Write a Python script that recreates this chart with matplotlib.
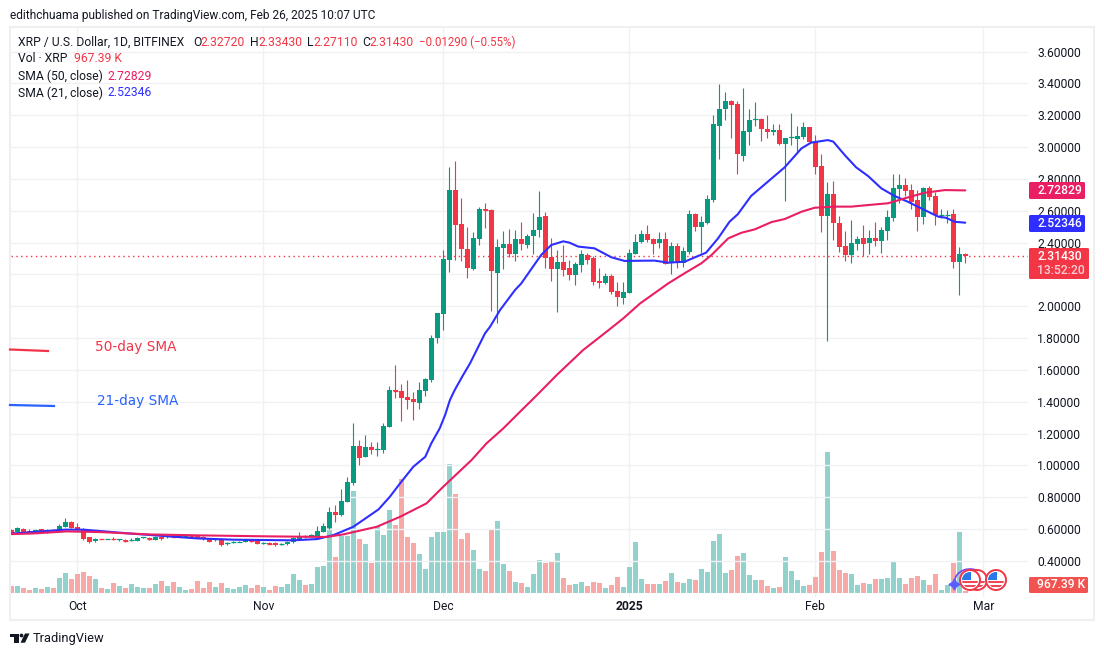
import numpy as np
import matplotlib
matplotlib.use("Agg")
import matplotlib.pyplot as plt
from matplotlib.patches import Rectangle, Circle, Polygon, Arc, FancyBboxPatch

# daily bars, 2024-09-20 to 2025-02-26
opens = [.592, .584, .603, .590, .590, .599, .584, .597, .588, .613,
         .647, .613, .603, .548, .523, .539, .538, .540, .532, .534,
         .530, .528, .546, .546, .534, .553, .551, .555, .551, .555,
         .557, .555, .553, .542, .532, .534, .505, .517, .519, .517,
         .536, .528, .512, .513, .513, .505, .504, .517, .540, .559,
         .555, .557, .584, .607, .707, .687, .772, .890, 1.122, 1.053,
         1.116, 1.099, 1.097, 1.241, 1.476, 1.467, 1.430, 1.417, 1.392, 1.467,
         1.537, 1.800, 1.954, 2.293, 2.731, 2.517, 2.360, 2.234, 2.423, 2.611,
         2.605, 2.209, 2.366, 2.391, 2.329, 2.423, 2.385, 2.442, 2.479, 2.567,
         2.310, 2.234, 2.278, 2.241, 2.197, 2.260, 2.322, 2.303, 2.159, 2.147,
         2.191, 2.096, 2.052, 2.084, 2.329, 2.404, 2.454, 2.423, 2.398, 2.423,
         2.272, 2.378, 2.272, 2.341, 2.579, 2.498, 2.523, 2.667, 3.132, 3.239,
         3.289, 3.270, 2.944, 3.095, 3.170, 3.176, 3.113, 3.095, 3.107, 3.019,
         3.057, 3.050, 3.063, 3.126, 3.032, 2.881, 2.567, 2.705, 2.523, 2.378,
         2.322, 2.391, 2.428, 2.397, 2.428, 2.410, 2.473, 2.554, 2.737, 2.762,
         2.730, 2.667, 2.561, 2.743, 2.692, 2.573, 2.573, 2.579, 2.278, 2.327]
highs = [.601, .613, .607, .601, .594, .603, .603, .603, .634, .672,
         .653, .641, .609, .553, .544, .541, .541, .548, .540, .540,
         .542, .548, .550, .548, .559, .559, .561, .561, .562, .561,
         .562, .565, .557, .546, .542, .542, .521, .523, .528, .538,
         .538, .532, .520, .519, .517, .512, .523, .551, .584, .563,
         .567, .620, .639, .741, .749, .852, .927, 1.266, 1.160, 1.191,
         1.147, 1.147, 1.266, 1.499, 1.631, 1.511, 1.537, 1.461, 1.524, 1.549,
         1.819, 1.958, 2.354, 2.875, 2.913, 2.680, 2.498, 2.467, 2.624, 2.649,
         2.611, 2.423, 2.473, 2.486, 2.479, 2.530, 2.455, 2.586, 2.724, 2.592,
         2.429, 2.354, 2.385, 2.291, 2.278, 2.354, 2.335, 2.316, 2.241, 2.209,
         2.203, 2.153, 2.153, 2.360, 2.454, 2.479, 2.511, 2.429, 2.467, 2.467,
         2.404, 2.397, 2.372, 2.605, 2.586, 2.567, 2.699, 3.201, 3.396, 3.346,
         3.296, 3.289, 3.371, 3.239, 3.283, 3.182, 3.201, 3.145, 3.145, 3.057,
         3.214, 3.132, 3.157, 3.126, 3.076, 2.956, 2.780, 2.787, 2.567, 2.473,
         2.542, 2.441, 2.510, 2.479, 2.529, 2.498, 2.605, 2.831, 2.831, 2.806,
         2.768, 2.730, 2.749, 2.755, 2.717, 2.611, 2.605, 2.611, 2.372, 2.334]
lows = [.572, .580, .576, .574, .582, .578, .578, .582, .584, .613,
        .609, .588, .534, .515, .521, .536, .536, .532, .528, .521,
        .528, .526, .544, .534, .532, .534, .544, .549, .549, .551,
        .551, .550, .534, .517, .528, .492, .500, .515, .517, .517,
        .521, .507, .505, .506, .496, .499, .500, .513, .538, .546,
        .550, .553, .580, .600, .645, .682, .768, .877, 1.003, 1.053,
        1.072, 1.059, 1.078, 1.241, 1.426, 1.279, 1.354, 1.285, 1.354, 1.436,
        1.524, 1.769, 1.853, 2.216, 2.291, 2.285, 2.178, 2.228, 2.385, 2.492,
        1.971, 1.895, 2.234, 2.310, 2.285, 2.354, 2.366, 2.329, 2.435, 2.241,
        2.159, 1.964, 2.191, 2.165, 2.134, 2.216, 2.266, 2.134, 2.115, 2.140,
        2.077, 2.002, 2.015, 2.084, 2.329, 2.398, 2.404, 2.329, 2.366, 2.266,
        2.203, 2.240, 2.246, 2.328, 2.473, 2.334, 2.517, 2.655, 2.925, 3.170,
        3.057, 2.831, 2.912, 3.013, 3.132, 3.038, 3.057, 3.076, 3.013, 2.661,
        3.013, 2.969, 3.050, 3.032, 2.831, 2.466, 1.782, 2.416, 2.341, 2.284,
        2.272, 2.353, 2.316, 2.328, 2.378, 2.334, 2.416, 2.536, 2.648, 2.692,
        2.611, 2.473, 2.517, 2.667, 2.510, 2.554, 2.523, 2.240, 2.071, 2.271]
closes = [.582, .605, .584, .582, .594, .584, .597, .592, .622, .647,
          .609, .592, .540, .521, .540, .538, .539, .536, .536, .523,
          .534, .546, .548, .536, .553, .538, .555, .551, .559, .557,
          .555, .553, .536, .521, .536, .498, .515, .519, .521, .534,
          .526, .509, .513, .510, .500, .507, .521, .546, .559, .555,
          .563, .590, .622, .707, .691, .776, .896, 1.122, 1.049, 1.116,
          1.097, 1.101, 1.248, 1.474, 1.470, 1.424, 1.411, 1.398, 1.474, 1.543,
          1.800, 1.957, 2.297, 2.731, 2.511, 2.360, 2.241, 2.429, 2.611, 2.607,
          2.222, 2.373, 2.391, 2.329, 2.423, 2.391, 2.442, 2.479, 2.561, 2.304,
          2.234, 2.278, 2.228, 2.197, 2.266, 2.329, 2.291, 2.153, 2.147, 2.191,
          2.090, 2.059, 2.090, 2.335, 2.404, 2.454, 2.417, 2.391, 2.423, 2.266,
          2.378, 2.272, 2.347, 2.579, 2.498, 2.529, 2.674, 3.145, 3.239, 3.289,
          3.264, 2.956, 3.101, 3.170, 3.175, 3.113, 3.095, 3.107, 3.019, 3.057,
          3.061, 3.069, 3.126, 3.032, 2.875, 2.567, 2.705, 2.523, 2.372, 2.322,
          2.397, 2.422, 2.391, 2.428, 2.410, 2.479, 2.561, 2.743, 2.762, 2.724,
          2.655, 2.561, 2.743, 2.686, 2.573, 2.576, 2.576, 2.278, 2.328, 2.3143]
# volume in millions of XRP
volumes = [3.5, 3.5, 2.5, 1.5, 2.5, 2, 3, 2.5, 7.5, 10,
           7, 9.5, 10.5, 8.5, 7, 2.5, 2, 5, 3.5, 2.5,
           4.5, 3, 2.5, 2.5, 4.5, 6, 3.5, 5.5, 3, 1.5,
           2, 6, 2.5, 5.5, 3, 5, 2.5, 2, 3, 4,
           2.5, 4, 3, 1.5, 3.5, 3, 4.5, 9.5, 6.5, 4,
           4.5, 13, 13.5, 32.5, 18, 28.5, 28.5, 51, 27, 24.5,
           15, 33.5, 29, 41.5, 34, 57, 28, 25, 19.5, 12,
           28, 30.5, 30.5, 64.5, 49.5, 27, 30, 21.5, 12, 11,
           31.5, 36, 14.5, 11, 5.5, 5, 3, 9.5, 16.5, 15,
           16, 20, 7.5, 4, 4.5, 5.5, 3.5, 5.5, 5, 2.5,
           4, 8, 3, 13, 25.5, 7, 4.5, 4.5, 4.5, 6,
           10, 5.5, 5, 7, 6.5, 12, 10.5, 26, 29.5, 10,
           11.5, 18.5, 20, 9, 6.5, 6.5, 3.5, 2.5, 3, 18,
           11, 6.5, 3.5, 4, 8, 20.5, 70.5, 21, 11.5, 10,
           9.5, 4, 5, 4.5, 7, 7, 7.5, 15.5, 7.5, 4.5,
           7.5, 8.5, 6.5, 4, 9.5, 1.5, 4, 15, 30.5, .97]

sma21_bar = [0, 9, 12, 20, 31, 37, 47, 51, 53.7, 57, 61.2, 63.1, 64.8, 67, 69, 70, 71.4, 72.3, 73.1, 73.9, 75.3,
             76.45, 78.95, 79.8, 81.45, 83.95, 85, 88.3, 90, 92, 93, 94.5, 97.2, 100, 102.2, 107.2, 109.5,
             112.2, 115.8, 117.8, 119.7, 121.1, 123.3, 126.1, 128.9, 131.7, 133.3, 136.1, 137, 138.9,
             140.8, 142.8, 145, 147.2, 149.4, 152.2, 154.5, 155.8, 157.2, 159]
sma21 = [.572, .597, .597, .572, .542, .534, .530, .538, .563, .615, .724, .804, .888, .992, 1.055, 1.139, 1.233, 1.317, 1.411, 1.474, 1.568,
         1.641, 1.830, 1.872, 1.976, 2.102, 2.144, 2.322, 2.385, 2.408, 2.400, 2.375, 2.364, 2.308, 2.285, 2.287, 2.274,
         2.280, 2.337, 2.427, 2.531, 2.579, 2.693, 2.783, 2.873, 2.992, 3.028, 3.044, 3.034, 2.950,
         2.873, 2.818, 2.741, 2.693, 2.657, 2.605, 2.563, 2.556, 2.531, 2.525]
sma50_bar = [0, 3.6, 9.2, 14.8, 23, 31.5, 42.6, 52.5, 55.3, 60.9, 64.8, 69.2, 72, 76.7, 79.2, 82, 84.8, 87.6,
             90.9, 95.3, 99.2, 102, 104.8, 109.5, 112.2, 115, 116.7, 119.5, 121.7, 123.9, 126.7, 128.9,
             131.7, 133.9, 137.2, 140, 142.8, 146.1, 148.9, 152.2, 155.6, 159]
sma50 = [.569, .573, .586, .582, .567, .561, .555, .551, .567, .615, .678, .762, .867, 1.034, 1.139, 1.233, 1.338, 1.442,
         1.568, 1.725, 1.840, 1.924, 2.018, 2.144, 2.207, 2.270, 2.322, 2.427, 2.462, 2.483, 2.529, 2.548,
         2.594, 2.619, 2.626, 2.626, 2.636, 2.647, 2.678, 2.713, 2.730, 2.728]

price_ticks = [0.4, 0.6, 0.8, 1.0, 1.2, 1.4, 1.6, 1.8, 2.0, 2.2, 2.4, 2.6, 2.8, 3.0, 3.2, 3.4, 3.6]
month_bars = [11, 42, 72, 103, 134, 162]
month_labels = ["Oct", "Nov", "Dec", "2025", "Feb", "Mar"]

UP = "#089981"
DOWN = "#F23645"
PINK = "#E91E63"
BLUE = "#2E2EFF"
GRID = "#F0F1F4"
INK = "#131722"
FONT = "Roboto"
W, H = 1104, 656

fig = plt.figure(figsize=(W / 100, H / 100), dpi=100)
left, right, top, bottom = 11, 1028, 28, 597
ax_vol = fig.add_axes([left / W, 1 - bottom / H, (right - left) / W, (bottom - top) / H])
ax = ax_vol.twinx()
ax_vol.set_zorder(1)
ax.set_zorder(2)
ax.patch.set_visible(False)

x = np.arange(len(closes))
o = np.array(opens)
c = np.array(closes)
up = c >= o
colors = [UP if u else DOWN for u in up]
vol_colors = ["#92D2CC" if u else "#F7A9A7" for u in up]

ax_vol.bar(x, volumes, width=0.8, color=vol_colors, linewidth=0)
ax_vol.set_ylim(-2, 282.5)
ax_vol.set_yticks([])
ax_vol.set_xticks(month_bars)
ax_vol.set_xticklabels(month_labels, fontsize=8.7, color=INK, family=FONT)
ax_vol.get_xticklabels()[3].set_fontweight("bold")
ax_vol.tick_params(axis="x", length=0, pad=2.5)
ax_vol.grid(axis="x", color=GRID, lw=1)
ax_vol.set_axisbelow(True)
ax_vol.set_xlim((left - 11.3) / 6, (right - 11.3) / 6)

ax.set_ylim(0.174, 3.748)
ax.set_yticks(price_ticks)
# 2.20000 sits under the last-price tag in the reference, so it shows nothing
ax.set_yticklabels(["" if t == 2.2 else "%.5f" % t for t in price_ticks], fontsize=8.7, color=INK, family=FONT)
for t in ax.get_yticklabels():
    t.set_verticalalignment("center_baseline")
ax.tick_params(axis="y", length=0, pad=6.5)
ax.grid(axis="y", color=GRID, lw=1)
ax.set_axisbelow(True)
for a in (ax, ax_vol):
    for s in a.spines.values():
        s.set_visible(False)

ax.axhline(closes[-1], color=DOWN, lw=1, ls=(0, (1, 2.5)), zorder=2)
ax.vlines(x, lows, highs, color=colors, lw=0.8, zorder=3)
ax.bar(x, np.abs(c - o), bottom=np.minimum(o, c), width=0.8, color=colors, linewidth=0, zorder=3)
# doji still need a visible body
flat = np.abs(c - o) < 0.012
ax.hlines(c[flat], x[flat] - 0.4, x[flat] + 0.4, color=[cl for cl, d in zip(colors, flat) if d], lw=0.9, zorder=3)
ax.plot(sma21_bar, sma21, color=BLUE, lw=1.5, zorder=4, solid_capstyle="round")
ax.plot(sma50_bar, sma50, color=PINK, lw=1.5, zorder=5, solid_capstyle="round")

# everything outside the plot, in pixels
over = fig.add_axes([0, 0, 1, 1], zorder=10)
over.set_xlim(0, W)
over.set_ylim(H, 0)
over.axis("off")


def txt(px, py, s, color=INK, size=8.7, **kw):
    kw.setdefault("family", FONT)
    over.text(px, py, s, color=color, fontsize=size, va="center", ha=kw.pop("ha", "left"), **kw)


def tag(x0, y0, x1, y1, color):
    over.add_patch(FancyBboxPatch((x0, y0), x1 - x0, y1 - y0, boxstyle="round,pad=0,rounding_size=1.5",
                                  fc=color, ec="none"))


over.add_patch(Rectangle((10, 27), 1084, 593, fc="none", ec="#EFEFEF", lw=1.5))
txt(10, 15, "edithchuama published on TradingView.com, Feb 26, 2025 10:07 UTC", size=8.6)

txt(18, 42, "XRP / U.S. Dollar, 1D, BITFINEX")
for lab, lx, val, vx in [("O", 193, "2.32720", 200), ("H", 250, "2.33430", 258),
                         ("L", 307, "2.27110", 313), ("C", 362, "2.31430", 369)]:
    txt(lx, 42, lab)
    txt(vx, 42, val, color=DOWN)
txt(419, 42, "\u22120.01290 (\u22120.55%)", color=DOWN, size=8.3)
txt(18, 59, "Vol \u00b7 XRP")
txt(74, 59, "967.39 K", color=DOWN)
txt(18, 76, "SMA (50, close)")
txt(107, 76, "2.72829", color=PINK)
txt(18, 93, "SMA (21, close)")
txt(107, 93, "2.52346", color=BLUE)

tag(1029, 182, 1085, 199, PINK)
txt(1037, 190.5, "2.72829", color="white", weight="medium")
tag(1029, 215, 1085, 232, BLUE)
txt(1037, 223.5, "2.52346", color="white", weight="medium")
tag(1029, 248, 1089, 279, DOWN)
txt(1037, 256.5, "2.31430", color="white", weight="medium")
txt(1037, 271, "13:52:20", color="#FBD0D4", weight="medium")
tag(1029, 577, 1088, 593, "#F05350")
txt(1037, 585, "967.39 K", color="white", weight="medium")

over.plot([10, 48], [349.5, 351], color="#F0354A", lw=1.6)
over.plot([10, 54], [405, 406], color="#2962FF", lw=1.6)
txt(95, 346.5, "50-day SMA", color="#F0354A", size=9.8, family="DejaVu Sans")
txt(97, 401, "21-day SMA", color="#2962FF", size=9.8, family="DejaVu Sans")

# event markers on the time scale
over.add_patch(Arc((970, 582), 31, 26, theta1=180, theta2=320, ec="#7E3FF2", lw=1.2))
over.plot([954], [584], marker=(4, 1, 0), ms=8, color="#5B5CFF")
for cx in [977, 970, 996]:
    over.add_patch(Circle((cx, 580), 10, fc="white", ec="#F23645", lw=1.4))
    disc = Circle((cx, 580), 8, fc="white", ec="none")
    over.add_patch(disc)
    for sy in [581, 585]:
        stripe = Rectangle((cx - 9, sy), 18, 2.2, fc="#F0485A", ec="none")
        over.add_patch(stripe)
        stripe.set_clip_path(disc)
    stars = Rectangle((cx - 8, 572), 9, 8, fc="#2979E8", ec="none")
    over.add_patch(stars)
    stars.set_clip_path(disc)

# TradingView mark
over.add_patch(Polygon([(10, 633.5), (18.5, 633.5), (18.5, 642.7), (14, 642.7), (14, 637), (10, 637)], fc="#131722"))
over.add_patch(Circle((21.5, 635.5), 1.9, fc="#131722", ec="none"))
over.add_patch(Polygon([(25, 633.5), (29.5, 633.5), (25, 642.7), (20.5, 642.7)], fc="#131722"))
txt(33, 638.5, "TradingView", size=9.3)

fig.savefig("out.png", dpi=100)
